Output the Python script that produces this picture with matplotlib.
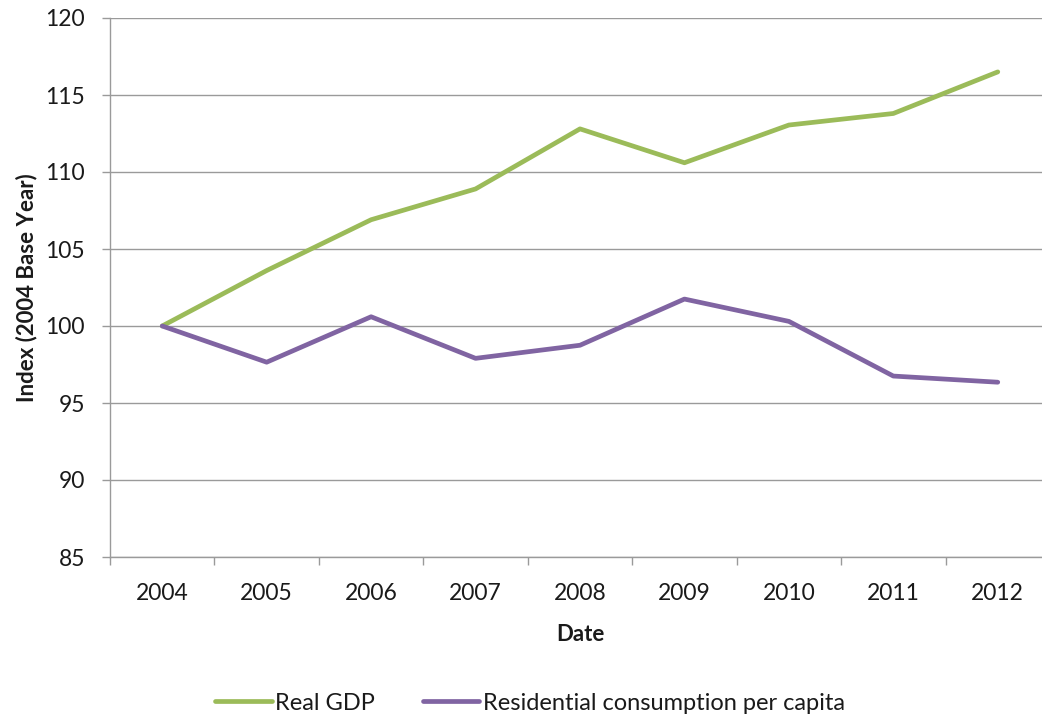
import matplotlib
matplotlib.use("Agg")
import matplotlib.pyplot as plt
from matplotlib.ticker import FixedLocator, NullFormatter

years = ["2004", "2005", "2006", "2007", "2008", "2009", "2010", "2011", "2012"]
real_gdp = [100.0, 103.6, 106.9, 108.9, 112.8, 110.6, 113.05, 113.8, 116.5]
residential = [100.0, 97.65, 100.6, 97.9, 98.75, 101.75, 100.3, 96.75, 96.35]

GREEN = "#9BBB59"
PURPLE = "#8064A2"
AXIS_GRAY = "#9a9a9a"
INK = "#1a1a1a"

plt.rcParams["font.family"] = ["Lato", "DejaVu Sans"]

W, H = 1042, 720
fig = plt.figure(figsize=(W / 100, H / 100), dpi=100)
# plot box runs slightly past the right edge of the canvas
ax = fig.add_axes([110 / W, 163 / H, 940 / W, 539 / H])

x = range(len(years))
ax.plot(x, real_gdp, color=GREEN, lw=3.4, solid_capstyle="round",
        solid_joinstyle="round", label="Real GDP")
ax.plot(x, residential, color=PURPLE, lw=3.4, solid_capstyle="round",
        solid_joinstyle="round", label="Residential consumption per capita")

ax.set_xlim(-0.5, len(years) - 0.5)
ax.set_ylim(85, 120)
ax.set_yticks(range(85, 121, 5))
ax.tick_params(axis="y", length=6, width=1, color=AXIS_GRAY,
               labelsize=16.5, labelcolor=INK, pad=12)

# category labels centred, tick marks between categories
ax.set_xticks(list(x))
ax.set_xticklabels(years)
ax.tick_params(axis="x", which="major", length=0, labelsize=16.5,
               labelcolor=INK, pad=19)
ax.xaxis.set_minor_locator(FixedLocator([i - 0.5 for i in range(len(years) + 1)]))
ax.xaxis.set_minor_formatter(NullFormatter())
ax.tick_params(axis="x", which="minor", length=6, width=1, color=AXIS_GRAY)

ax.grid(axis="y", color=AXIS_GRAY, lw=1)
ax.set_axisbelow(True)
for side in ("top", "right"):
    ax.spines[side].set_visible(False)
for side in ("left", "bottom"):
    ax.spines[side].set_color(AXIS_GRAY)
    ax.spines[side].set_linewidth(1)

ax.set_xlabel("Date", fontsize=16, fontweight="bold", color=INK, labelpad=14)
ax.set_ylabel("Index (2004 Base Year)", fontsize=16, fontweight="bold",
              color=INK, labelpad=6)

fig.legend(loc="center", bbox_to_anchor=(530 / W, 1 - 703 / H), ncol=2,
           frameon=False, fontsize=17, handlelength=2.4, handletextpad=0.15,
           columnspacing=2.0, labelcolor=INK)

fig.savefig("out.png", dpi=100, facecolor="white")
